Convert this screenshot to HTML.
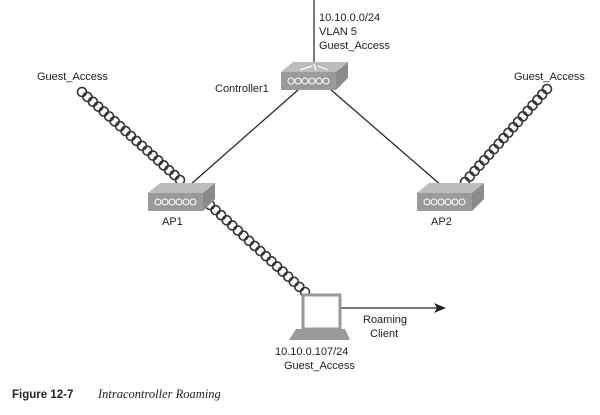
<!DOCTYPE html>
<html><head><style>
body{margin:0;background:#fff;width:600px;height:415px;overflow:hidden}
svg{display:block}
text{font-family:"Liberation Sans",Arial,sans-serif;font-size:11px;fill:#222}
</style></head><body>
<svg width="600" height="415" viewBox="0 0 600 415">
<defs>
<g id="dev">
<polygon points="0,10 12,0 67,0 55,10" fill="#bdbdbd"/>
<polygon points="55,10 67,0 67,16 55,28" fill="#8a8a8a"/>
<rect x="0" y="10" width="55" height="18" fill="#9a9a9a"/>
<g fill="none" stroke="#fff" stroke-width="1">
<circle cx="10" cy="19" r="3"/><circle cx="17" cy="19" r="3"/><circle cx="24" cy="19" r="3"/><circle cx="31" cy="19" r="3"/><circle cx="38" cy="19" r="3"/><circle cx="45" cy="19" r="3"/>
</g>
</g>
</defs>
<line x1="314" y1="0" x2="314" y2="66" stroke="#222" stroke-width="1.2"/>
<line x1="298" y1="90" x2="190" y2="185" stroke="#222" stroke-width="1.2"/>
<line x1="330" y1="89" x2="442" y2="186" stroke="#222" stroke-width="1.2"/>
<line x1="341" y1="308" x2="437" y2="308" stroke="#222" stroke-width="1.2"/>
<polygon points="446,308 434,303 437,308 434,313" fill="#222"/>
<g fill="none" stroke="#333" stroke-width="1.6" id="coils">
</g>
<use href="#dev" x="281" y="62"/>
<path d="M300,70 L312,66 M314,64 L316,70 M328,70 L318,66" stroke="#fff" stroke-width="1.2" fill="none"/>
<use href="#dev" x="148" y="183"/>
<use href="#dev" x="417" y="183"/>
<rect x="303" y="295" width="37" height="34" fill="#fff" stroke="#999" stroke-width="3"/>
<polygon points="296,329 345,329 350,340 289,340" fill="#9a9a9a"/>
<text x="319" y="21">10.10.0.0/24</text>
<text x="319" y="35">VLAN 5</text>
<text x="319" y="49">Guest_Access</text>
<text x="215" y="92">Controller1</text>
<text x="37" y="80">Guest_Access</text>
<text x="514" y="80">Guest_Access</text>
<text x="162" y="225">AP1</text>
<text x="431" y="225">AP2</text>
<text x="363" y="323">Roaming</text>
<text x="370" y="337">Client</text>
<text x="275" y="355">10.10.0.107/24</text>
<text x="284" y="369">Guest_Access</text>
<text x="12" y="398" style="font-weight:bold;font-size:11.5px">Figure 12-7</text>
<text x="98" y="398" style="font-family:'Liberation Serif',serif;font-style:italic;font-size:12.5px">Intracontroller Roaming</text>
</svg>
<script>
var g=document.getElementById('coils');
function coil(x1,y1,x2,y2){var dx=x2-x1,dy=y2-y1,L=Math.hypot(dx,dy),n=Math.round(L/7.5);
for(var i=0;i<=n;i++){var t=i/n;var c=document.createElementNS('http://www.w3.org/2000/svg','circle');
c.setAttribute('cx',x1+dx*t);c.setAttribute('cy',y1+dy*t);c.setAttribute('r',4.5);g.appendChild(c);}}
coil(82,92,180,180);
coil(210,205,305,292);
coil(465,182,547,89);
</script>
</body></html>
